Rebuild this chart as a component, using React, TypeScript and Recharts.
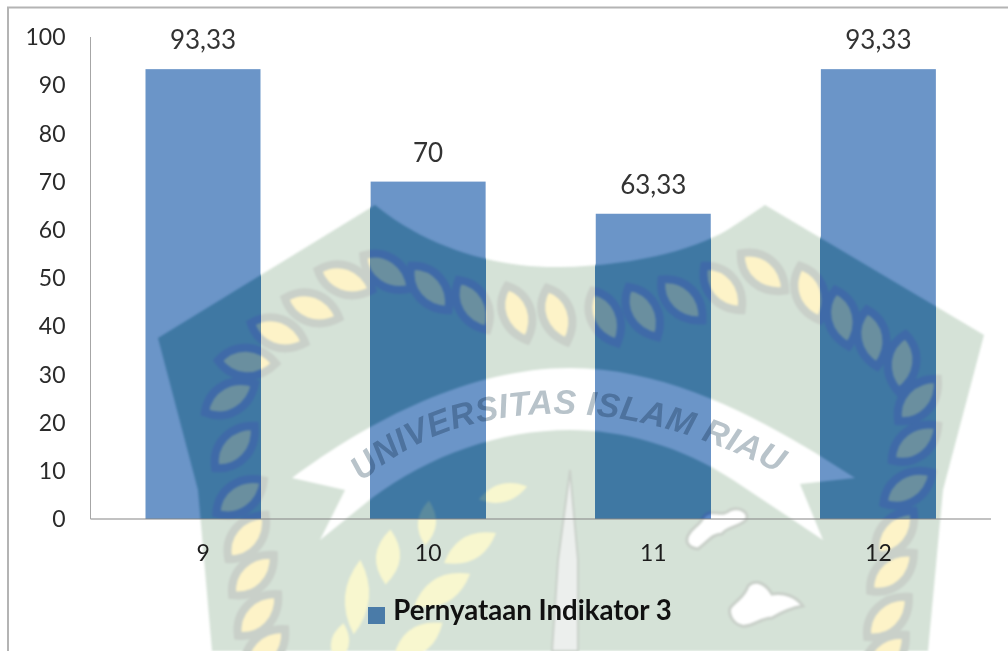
import React from 'react';
import { BarChart, Bar, XAxis, YAxis, Legend, LabelList } from 'recharts';

const categories = ['9', '10', '11', '12'];
const seriesValues = [93.33, 70, 63.33, 93.33];
const yTicks = [0, 10, 20, 30, 40, 50, 60, 70, 80, 90, 100];
const seriesName = 'Pernyataan Indikator 3';

const data = categories.map((name, i) => ({ name, value: seriesValues[i] }));

// background watermark (crest of the university), [x, y, rotation]
const chainLeaves = [
  [265, 650, -46], [258, 615, -46], [253, 575, -44], [247, 537, -50], [240, 497, -35],
  [235, 447, -47], [230, 398, -30], [247, 362, 3], [278, 333, 20], [312, 308, 20],
  [345, 280, 20], [387, 272, 35], [430, 288, 50], [473, 305, 60], [517, 313, 70],
  [557, 315, 70], [605, 317, 65], [643, 312, 60], [682, 300, 45], [723, 288, 50],
  [763, 272, 40], [810, 293, 70], [842, 318, 77], [872, 338, 80], [902, 363, 97],
  [918, 400, -47], [915, 443, -37], [908, 488, -32], [895, 533, -50], [892, 572, -41],
  [888, 617, -44], [885, 655, -44],
];
const wheatLeaves = [
  [388, 557, -85, 55, 24], [470, 548, -30, 60, 24], [442, 590, -30, 65, 26], [357, 597, -85, 75, 24],
  [418, 640, -35, 60, 26], [503, 493, -15, 50, 18], [427, 523, -85, 45, 18], [340, 643, -80, 40, 18],
];
const shieldPath = 'M158 338 L375 205 C430 250 500 268 560 267 C630 266 700 250 735 225 L765 205 L984 335 L943 490 L928 651 L212 651 L198 490 Z';
const bannerPath = 'M320 540 L345 490 L292 478 C370 420 470 368 570 368 C680 368 780 430 855 478 L800 484 L823 540 L733 480 C680 445 620 430 570 430 C500 430 430 455 372 498 Z';
const daggerPath = 'M570 470 L578 560 L578 651 L552 651 L558 560 Z';
const cloudPaths = [
  'M687 538 C690 528 700 526 704 516 C712 508 722 518 730 510 C742 506 750 514 746 520 C738 528 728 526 722 534 C712 534 708 542 698 549 C690 548 686 544 687 538 Z',
  'M730 608 C736 600 744 598 748 586 C756 578 766 584 772 594 C784 592 796 596 803 606 C792 608 782 612 772 618 C760 618 752 628 742 626 C734 624 728 616 730 608 Z',
];

const lightTheme = { shield: '#d5e2d7', halo: '#c9d0c9', leaf: '#fdf3c8', banner: '#ffffff', wheat: '#f8f7cf', dagger: '#ecefed', cloud: '#ffffff' };
const darkTheme = { shield: '#3f78a3', halo: '#3f6aa8', leaf: '#6a8f9f', banner: '#6b95c8', wheat: '#5a8a9e', dagger: '#5f8fb8', cloud: '#5a88c8' };

const Crest = ({ theme }: { theme: typeof lightTheme }) => (
  <g style={{ filter: 'blur(1.1px)' }}>
    <path d={shieldPath} fill={theme.shield} />
    {chainLeaves.map(([x, y, r], i) => (
      <path
        key={i}
        d="M-29 0 C-14 -19 12 -19 29 0 C12 19 -14 19 -29 0 Z"
        transform={`translate(${x} ${y}) rotate(${r})`}
        fill={theme.leaf}
        stroke={theme.halo}
        strokeWidth={8}
      />
    ))}
    <path d={bannerPath} fill={theme.banner} />
    {wheatLeaves.map(([x, y, r, l, w], i) => (
      <path
        key={i}
        d={`M${-l / 2} 0 Q0 ${-w} ${l / 2} 0 Q0 ${w} ${-l / 2} 0 Z`}
        transform={`translate(${x} ${y}) rotate(${r})`}
        fill={theme.wheat}
      />
    ))}
    <path d={daggerPath} fill={theme.dagger} stroke={theme.halo} strokeWidth={2} />
    {cloudPaths.map((d, i) => (
      <path key={i} d={d} fill={theme.cloud} stroke={theme.halo} strokeWidth={3} />
    ))}
  </g>
);

// bar with the dark crest showing through it
const CrestBar = (props: any) => {
  const { x, y, width, height } = props;
  return (
    <g>
      <rect x={x} y={y} width={width} height={height} fill="#6b95c8" />
      <svg x={x} y={y} width={width} height={height} viewBox={`${x} ${y} ${width} ${height}`}>
        <Crest theme={darkTheme} />
      </svg>
    </g>
  );
};

const App = () => (
  <div style={{ position: 'fixed', left: 0, top: 0, width: 1008, height: 651, overflow: 'hidden', background: '#fff', fontFamily: 'Lato' }}>
    <svg width={1008} height={651} style={{ position: 'absolute', left: 0, top: 0 }}>
      <Crest theme={lightTheme} />
      <path d="M8 651 L8 7.5 L1008 7.5" fill="none" stroke="#b4b4b4" strokeWidth={2} />
    </svg>
    <div style={{ position: 'absolute', left: 0, top: 0 }}>
      <BarChart width={1008} height={651} data={data} margin={{ top: 37, right: 17, left: 0, bottom: 82 }}>
        <XAxis
          dataKey="name"
          height={50}
          tickLine={false}
          tickMargin={20}
          stroke="#858585"
          tick={{ fill: '#1c1c1c', fontSize: 23, fontFamily: 'Lato' }}
        />
        <YAxis
          width={90.5}
          domain={[0, 100]}
          ticks={yTicks}
          interval={0}
          tickLine={false}
          tickMargin={19}
          stroke="#a6a6a6"
          tick={{ fill: '#2a2a2a', fontSize: 23, fontFamily: 'Lato' }}
        />
        <Legend
          layout="horizontal"
          align="center"
          verticalAlign="middle"
          iconType="square"
          iconSize={17}
          wrapperStyle={{ left: 362, top: 593, width: 326 }}
          formatter={(v: string) => (
            <span style={{ color: '#111', fontWeight: 700, fontSize: 27.6, fontFamily: 'Lato', marginLeft: 4 }}>{v}</span>
          )}
        />
        <Bar dataKey="value" name={seriesName} fill="#4a7ba8" barSize={115} isAnimationActive={false} shape={CrestBar}>
          <LabelList
            dataKey="value"
            position="top"
            offset={20}
            fill="#333"
            fontSize={26}
            fontFamily="Lato"
            formatter={(v: number) => String(v).replace('.', ',')}
          />
        </Bar>
      </BarChart>
    </div>
    <svg width={1008} height={651} style={{ position: 'absolute', left: 0, top: 0, mixBlendMode: 'multiply', pointerEvents: 'none' }}>
      <defs>
        <path id="crest-arc" d="M362 482 C430 420 520 412 570 414 C640 416 720 440 795 482" />
      </defs>
      <text fontFamily="Liberation Sans" fontStyle="italic" fontWeight={700} fontSize={34} letterSpacing={0.4} fill="#b8c3ca" style={{ filter: 'blur(0.6px)' }}>
        <textPath href="#crest-arc" startOffset="0">UNIVERSITAS ISLAM RIAU</textPath>
      </text>
    </svg>
  </div>
);

export default App;
